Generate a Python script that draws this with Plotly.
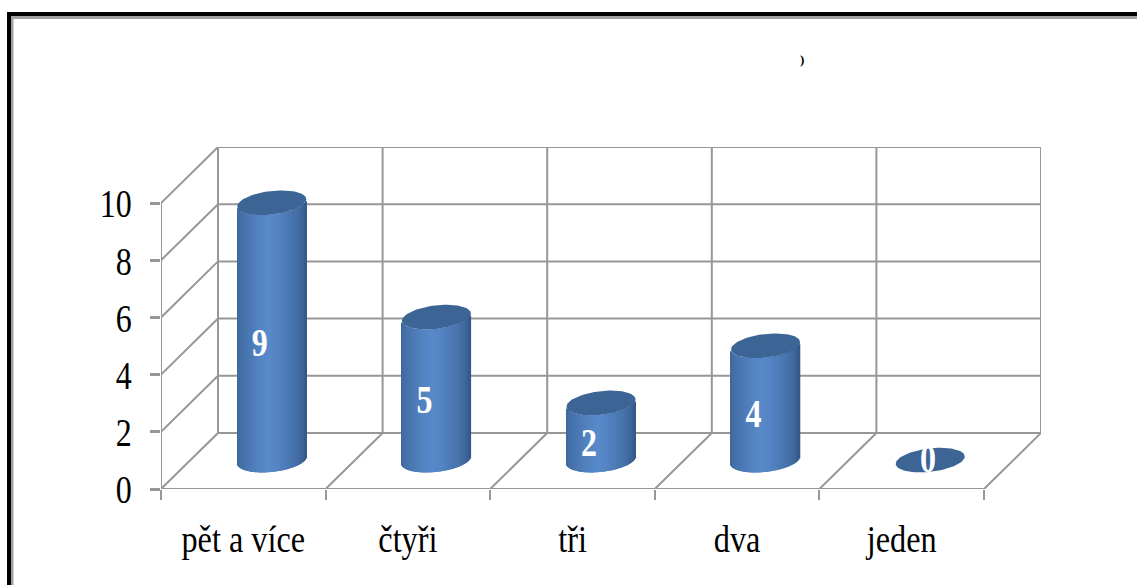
import numpy as np
import plotly.graph_objects as go

categories = ["pět a více", "čtyři", "tři", "dva", "jeden"]
values = [9, 5, 2, 4, 0]
y_ticks = [0, 2, 4, 6, 8, 10]

W, H = 1137, 585
PX_L, PX_R, PX_T, PX_B = 161, 1041, 147, 488.7
UX, UY = 164.6, 28.57
DX, DY = (PX_R - PX_L) / UX - 5, (PX_B - PX_T) / UY - 10
A, B, S = 34.5 / UX, 11.8 / UY, 3.6 / UY
GRID = "#979797"
n_cat = len(categories)

seg = []
def line(x0, y0, x1, y1):
    seg.append(f"M{x0},{y0} L{x1},{y1}")
for t in y_ticks:
    line(0, t, DX, t + DY)
    line(DX, t + DY, n_cat + DX, t + DY)
for i in range(n_cat + 1):
    line(DX + i, DY, DX + i, 10 + DY)
    line(i, 0, i + DX, DY)
line(0, 0, 0, 10)
line(0, 0, n_cat, 0)

def shade(f):
    # f in -1..1 across the cylinder
    c0 = np.array([0x2f, 0x52, 0x80])
    c1 = np.array([0x58, 0x8a, 0xcb])
    k = np.clip(1 - np.abs(f + 0.08) / 1.08, 0, 1) ** 0.5
    r, g, b = c0 + (c1 - c0) * k
    return f"rgb({r:.0f},{g:.0f},{b:.0f})"

fig = go.Figure()
N = 69
us = (np.arange(N) + 0.5) / N * 2 - 1
CY = DY / 2 + 0.03
for i, v in enumerate(values):
    cx = i + 0.5 + DX / 2
    if v > 0:
        fig.add_bar(
            x=cx + us * A,
            y=[v] * N,
            base=CY - B * np.sqrt(1 - us ** 2) + S * us,
            width=2 * A / N * 1.4,
            marker=dict(color=[shade(u) for u in us], line=dict(width=0)),
            hoverinfo="skip", showlegend=False,
        )
for i, v in enumerate(values):
    cx = i + 0.5 + DX / 2
    t = np.linspace(0, 2 * np.pi, 90)
    fig.add_scatter(
        x=cx + A * np.cos(t),
        y=CY + v + B * np.sin(t) + S * np.cos(t),
        fill="toself", fillcolor="#3c6596", mode="lines",
        line=dict(width=0, color="#3c6596"),
        hoverinfo="skip", showlegend=False,
    )

fig.add_scatter(
    x=[i + 0.5 + DX / 2 - (0.073 if v > 0 else 0.014) for i, v in enumerate(values)],
    y=[CY + v / 2 - (0.5 if v > 0 else 0.08) for v in values],
    text=[str(v) for v in values],
    mode="text", textposition="middle center",
    textfont=dict(family="Liberation Serif", size=40, color="white", weight="bold"),
    hoverinfo="skip", showlegend=False,
)

px = lambda p: (p - PX_L) / (PX_R - PX_L)
py = lambda p: (PX_B - p) / (PX_B - PX_T)
def frame(x0, y0, x1, y1, color):
    return dict(type="rect", xref="paper", yref="paper", x0=px(x0), x1=px(x1), y0=py(y0), y1=py(y1),
                fillcolor=color, line=dict(width=0), layer="below")

shapes = [dict(type="path", path=" ".join(seg), xref="x", yref="y",
               line=dict(color=GRID, width=2), layer="below"),
          frame(7, 12, W, 16, "#000000"), frame(7, 12, 11, H, "#000000"),
          frame(11, 16, W, 19, "#a0a0a0"), frame(11, 16, 13.5, H, "#a0a0a0")]

fig.update_layout(
    width=W, height=H, plot_bgcolor="white", paper_bgcolor="white",
    margin=dict(l=PX_L, r=W - PX_R, t=PX_T, b=H - PX_B, pad=0),
    barmode="overlay", shapes=shapes, showlegend=False,
    font=dict(family="Liberation Serif", color="black"),
    xaxis=dict(range=[0, n_cat + DX], showgrid=False, zeroline=False, showline=False,
               tickmode="array", tickvals=[i + 0.5 for i in range(n_cat)], ticktext=categories,
               ticks="", ticklabelstandoff=24, tickfont=dict(size=38),
               minor=dict(tickmode="array", tickvals=list(range(n_cat + 1)), ticks="outside",
                          ticklen=10, tickwidth=2, tickcolor=GRID, showgrid=False)),
    yaxis=dict(range=[0, 10 + DY], showgrid=False, zeroline=False, showline=False,
               tickmode="array", tickvals=y_ticks, ticktext=[str(t) for t in y_ticks],
               ticks="outside", ticklen=10, tickwidth=3, tickcolor=GRID,
               ticklabelstandoff=10, tickfont=dict(size=41)),
    annotations=[dict(text="<b>)</b>", xref="paper", yref="paper", x=px(802), y=py(60), showarrow=False,
                      xanchor="center", yanchor="middle",
                      font=dict(size=13, color="black"))],
)

post = """
document.body.style.margin='0';document.documentElement.style.overflow='hidden';
var sq=function(sel,k){document.querySelectorAll(sel).forEach(function(t){
  var l=t.getComputedTextLength();t.setAttribute('textLength',l*k);t.setAttribute('lengthAdjust','spacingAndGlyphs');});};
sq('.xtick text',0.85);sq('.ytick text',0.78);sq('.textpoint text',0.8);
"""
fig.write_html("out.html", post_script=post, config=dict(displayModeBar=False))
